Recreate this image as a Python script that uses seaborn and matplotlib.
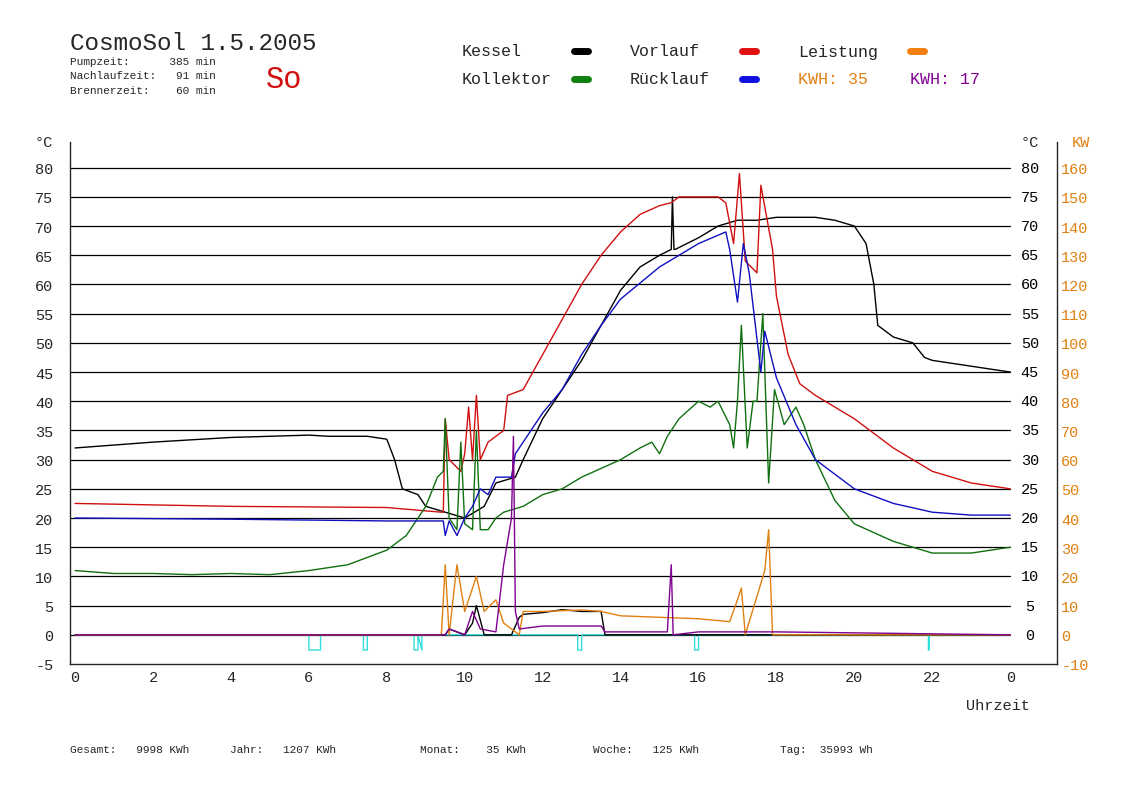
import matplotlib.pyplot as plt
import seaborn as sns

sns.set_style("white")
plt.rcParams["font.family"] = ["Liberation Mono", "DejaVu Sans Mono"]

# hours / values
kessel_h = [0, 2, 4, 6, 6.5, 7.5, 8, 8.2, 8.4, 8.8, 9, 9.5, 10, 10.5, 10.8, 11.3, 11.5, 12, 12.5, 13, 13.5,
            14, 14.5, 15, 15.3, 15.33, 15.37, 15.4, 16, 16.5, 17, 17.5, 18, 19, 19.5, 20, 20.3, 20.5, 20.6,
            21, 21.5, 21.8, 22, 23, 24]
kessel_t = [32, 33, 33.8, 34.2, 34, 34, 33.5, 30, 25, 24, 22, 21, 20, 22, 26, 27, 30, 37, 42, 47, 53,
            59, 63, 65, 66, 75, 66, 66, 68, 70, 71, 71, 71.5, 71.5, 71, 70, 67, 60, 53,
            51, 50, 47.5, 47, 46, 45]

vorlauf_h = [0, 4, 8, 9.4, 9.45, 9.5, 9.6, 9.9, 10, 10.1, 10.2, 10.3, 10.4, 10.6, 11, 11.1, 11.5, 12, 12.5,
             13, 13.5, 14, 14.5, 15, 15.3, 15.5, 16, 16.5, 16.7, 16.9, 17.05, 17.2, 17.5, 17.6, 17.9,
             18, 18.3, 18.6, 19, 20, 21, 22, 23, 24]
vorlauf_t = [22.5, 22, 21.8, 21, 21, 37, 30, 28, 31, 39, 30, 41, 30, 33, 35, 41, 42, 48, 54,
             60, 65, 69, 72, 73.5, 74, 75, 75, 75, 74, 67, 79, 64, 62, 77, 66,
             58, 48, 43, 41, 37, 32, 28, 26, 25]

ruecklauf_h = [0, 4, 8, 9.45, 9.5, 9.6, 9.8, 10, 10.2, 10.4, 10.6, 10.8, 11.2, 11.3, 12, 12.5, 13, 13.5, 14,
               15, 15.5, 16, 16.7, 16.8, 17, 17.15, 17.3, 17.6, 17.7, 18, 18.5, 19, 20, 21, 22, 23, 24]
ruecklauf_t = [20, 19.8, 19.5, 19.5, 17, 19.5, 17, 20, 22, 25, 24, 27, 27, 31, 38, 42, 48, 53, 57.5,
               63, 65, 67, 69, 66, 57, 67, 62, 45, 52, 44, 36, 30, 25, 22.5, 21, 20.5, 20.5]

kollektor_h = [0, 1, 2, 3, 4, 5, 6, 7, 8, 8.5, 9, 9.3, 9.45, 9.5, 9.6, 9.8, 9.9, 10, 10.2, 10.3, 10.4, 10.6,
               10.8, 11, 11.5, 12, 12.5, 13, 13.5, 14, 14.5, 14.8, 15, 15.2, 15.5, 16, 16.3, 16.5, 16.8,
               16.9, 17, 17.1, 17.25, 17.4, 17.5, 17.65, 17.8, 17.95, 18.2, 18.5, 18.7, 19, 19.5, 20, 21,
               22, 23, 24]
kollektor_t = [11, 10.5, 10.5, 10.3, 10.5, 10.3, 11, 12, 14.5, 17, 22, 27, 28, 37, 20, 18, 33, 19, 18, 35, 18, 18,
               20, 21, 22, 24, 25, 27, 28.5, 30, 32, 33, 31, 34, 37, 40, 39, 40, 36,
               32, 40, 53, 32, 40, 40, 55, 26, 42, 36, 39, 36, 30, 23, 19, 16,
               14, 14, 15]

leistung_h = [0, 9.4, 9.5, 9.6, 9.8, 10, 10.3, 10.5, 10.8, 11, 11.4, 11.5, 12, 13, 13.5, 14, 15, 16, 16.8,
              17, 17.1, 17.2, 17.7, 17.8, 17.9, 24]
leistung_kw = [0, 0, 24, 0, 24, 8, 20, 8, 12, 4, 0, 8, 8, 8.5, 8, 6.5, 6, 5.5, 4.5,
               12, 16, 0, 22, 36, 0, 0]

brenner_h = [0, 9.5, 9.6, 10, 10.2, 10.3, 10.5, 11.2, 11.4, 11.5, 12, 12.5, 13, 13.5, 13.6, 24]
brenner_t = [0, 0, 1, 0, 2, 5, 0, 0, 3, 3.5, 3.8, 4.3, 4, 4, 0, 0]

extra_h = [0, 9.5, 9.6, 10, 10.2, 10.4, 10.8, 11, 11.2, 11.25, 11.3, 11.4, 12, 13.5, 13.6, 15.2, 15.3, 15.35,
           16, 17, 17.5, 18, 24]
extra_t = [0, 0, 1, 0, 4, 1, 0.5, 12, 20, 34, 4, 1, 1.5, 1.5, 0.5, 0.5, 12, 0, 0.5, 0.5, 0.5, 0.5, 0]

pumpe_h = [0, 6.0, 6.0, 6.3, 6.3, 7.4, 7.4, 7.5, 7.5, 8.7, 8.7, 8.8, 8.8, 8.9, 8.9, 12.9, 12.9, 13.0, 13.0,
           15.9, 15.9, 16.0, 16.0, 21.9, 21.9, 21.92, 21.92, 24]
pumpe_t = [0, 0, -2.6, -2.6, 0, 0, -2.6, -2.6, 0, 0, -2.6, -2.6, 0, -2.6, 0, 0, -2.6, -2.6, 0,
           0, -2.6, -2.6, 0, 0, -2.6, -2.6, 0, 0]

temp_ticks = list(range(-5, 85, 5))
kw_ticks = list(range(-10, 170, 10))
hour_ticks = list(range(0, 26, 2))
hour_labels = [str(h) for h in range(0, 24, 2)] + ["0"]

fig = plt.figure(figsize=(11.48, 8.12), dpi=100)
ax = fig.add_axes([70 / 1148, 1 - 665 / 812, 987 / 1148, (665 - 143) / 812])
ax.set_xlim(-0.13, 25.2)
ax.set_ylim(-5, 84.4)

for t in temp_ticks[1:]:
    ax.plot([-0.13, 24], [t, t], color="black", lw=0.9, zorder=1)

lw = 1.0
sns.lineplot(x=pumpe_h, y=pumpe_t, ax=ax, color="#33dddd", lw=lw, sort=False, estimator=None)
sns.lineplot(x=kessel_h, y=kessel_t, ax=ax, color="black", lw=lw, sort=False, estimator=None)
sns.lineplot(x=vorlauf_h, y=vorlauf_t, ax=ax, color="#d01010", lw=lw, sort=False, estimator=None)
sns.lineplot(x=kollektor_h, y=kollektor_t, ax=ax, color="#107010", lw=lw, sort=False, estimator=None)
sns.lineplot(x=ruecklauf_h, y=ruecklauf_t, ax=ax, color="#1010c0", lw=lw, sort=False, estimator=None)
sns.lineplot(x=brenner_h, y=brenner_t, ax=ax, color="black", lw=lw, sort=False, estimator=None)
sns.lineplot(x=leistung_h, y=[k / 2 for k in leistung_kw], ax=ax, color="#e08010", lw=lw, sort=False, estimator=None)
sns.lineplot(x=extra_h, y=extra_t, ax=ax, color="#800090", lw=lw, sort=False, estimator=None)

ax.spines["top"].set_visible(False)
for s in ["left", "right", "bottom"]:
    ax.spines[s].set_color("black")
    ax.spines[s].set_linewidth(0.9)

ax.set_yticks(temp_ticks)
ax.set_yticklabels([str(t) for t in temp_ticks], fontsize=11)
ax.set_xticks(hour_ticks)
ax.set_xticklabels(hour_labels, fontsize=11)
ax.tick_params(axis="x", direction="in", length=4, pad=4)
ax.tick_params(axis="y", length=0, pad=12)
ax.set_ylabel("")
ax.set_xlabel("")
for t in temp_ticks[1:]:
    ax.text(24.5, t, str(t), ha="center", va="center", fontsize=11, color="black")
ax.text(24.5, 84.4, "°C", ha="center", va="center", fontsize=11)
ax.text(-0.8, 84.4, "°C", ha="center", va="center", fontsize=11)

ax2 = ax.twinx()
ax2.set_ylim(-10, 168.8)
ax2.set_yticks(kw_ticks)
ax2.set_yticklabels([str(k) for k in kw_ticks], fontsize=11, color="#e08010")
ax2.tick_params(axis="y", length=0, pad=3)
ax2.spines["top"].set_visible(False)
ax2.grid(False)
ax2.text(1.015, 1.0, "KW", transform=ax2.transAxes, ha="left", va="center", fontsize=11, color="#e08010")

fig.text(966 / 1148, 1 - 710 / 812, "Uhrzeit", fontsize=11)

fig.text(70 / 1148, 1 - 50 / 812, "CosmoSol 1.5.2005", fontsize=17.5)
fig.text(70 / 1148, 1 - 57 / 812, "Pumpzeit:      385 min\nNachlaufzeit:   91 min\nBrennerzeit:    60 min",
         fontsize=8, va="top", linespacing=1.55)
fig.text(266 / 1148, 1 - 80 / 812, "So", fontsize=22, color="#d01010", va="center")

legend_items = [(462, 52, "Kessel", "black"), (630, 52, "Vorlauf", "#e01010"), (798, 52, "Leistung", "#f08010"),
                (462, 80, "Kollektor", "#108010"), (630, 80, "Rücklauf", "#1010e0")]
for x, y, name, c in legend_items:
    fig.text(x / 1148, 1 - y / 812, name, fontsize=12, va="center")
    fig.lines.append(plt.Line2D([(x + 112) / 1148, (x + 126) / 1148], [1 - y / 812] * 2,
                                color=c, lw=5, solid_capstyle="round", transform=fig.transFigure))
fig.text(798 / 1148, 1 - 80 / 812, "KWH: 35", fontsize=12, va="center", color="#e08010")
fig.text(910 / 1148, 1 - 80 / 812, "KWH: 17", fontsize=12, va="center", color="#800090")

footer = [(70, "Gesamt:   9998 KWh"), (230, "Jahr:   1207 KWh"), (420, "Monat:    35 KWh"),
          (593, "Woche:   125 KWh"), (780, "Tag:  35993 Wh")]
for x, s in footer:
    fig.text(x / 1148, 1 - 750 / 812, s, fontsize=8, va="center")

fig.savefig("out.png", dpi=100)
